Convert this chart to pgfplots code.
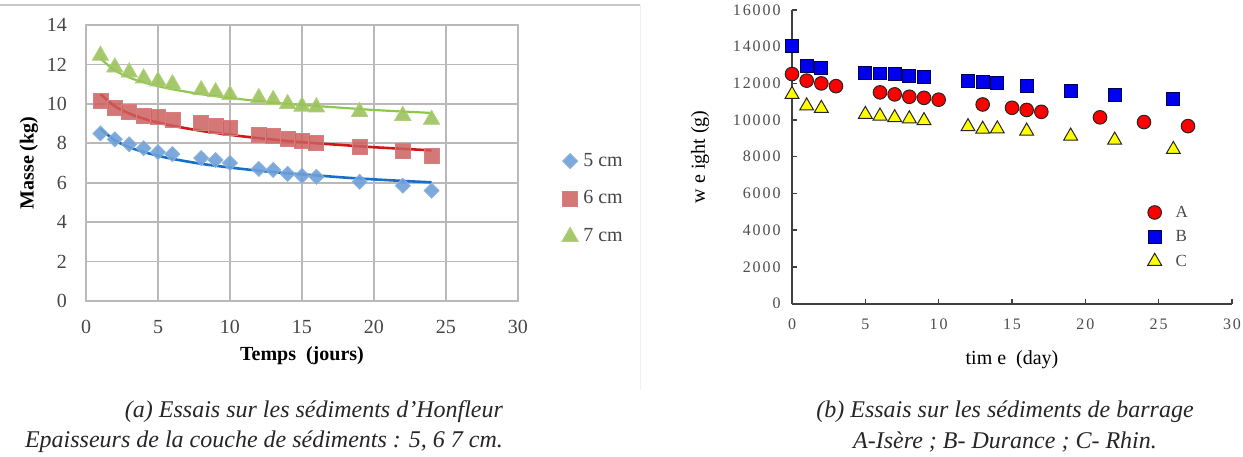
\documentclass[border=0pt]{standalone}
\usepackage{fontspec}
\setmainfont{Liberation Serif}
\newfontfamily\spaced[LetterSpace=12]{Liberation Serif}
\usepackage{pgfplots}
\pgfplotsset{compat=1.18}

% Excel-like palette for the Honfleur panel
\definecolor{xlblue}{RGB}{110,160,215}
\definecolor{xlred}{RGB}{205,95,95}
\definecolor{xlgreen}{RGB}{155,195,90}
\definecolor{trblue}{RGB}{25,110,200}
\definecolor{trred}{RGB}{205,25,25}
\definecolor{trgreen}{RGB}{140,200,75}
\definecolor{gridgray}{RGB}{185,185,185}
\definecolor{txtgray}{RGB}{70,70,70}
% dam sediment panel
\definecolor{mred}{RGB}{255,0,0}
\definecolor{mblue}{RGB}{0,0,240}
\definecolor{myellow}{RGB}{255,255,0}

\begin{document}
\begin{tikzpicture}
\path[use as bounding box] (0,0) rectangle (621.5pt,228pt);
% frame of the left panel
\draw[draw=black!22, line width=0.8pt] (0,225.5pt) -- (320pt,225.5pt);
\draw[draw=black!6, line width=0.5pt] (320pt,225.5pt) -- (320pt,33pt);

% ---------------- (a) Honfleur ----------------
\begin{axis}[
  at={(43pt,77.5pt)}, anchor=south west,
  scale only axis, width=216pt, height=138pt,
  xmin=0, xmax=30, ymin=0, ymax=14,
  xtick={0,5,...,30}, ytick={0,2,...,14},
  grid=major, major grid style={draw=gridgray, line width=0.9pt},
  axis line style={draw=gridgray, line width=0.9pt},
  tick style={draw=none},
  /pgf/number format/assume math mode=true,
  ticklabel style={font=\fontsize{10}{12}\selectfont, text=txtgray},
  yticklabel shift=6pt, xticklabel shift=6pt,
  xlabel={\bfseries Temps\ \ (jours)},
  ylabel={\bfseries Masse (kg)},
  label style={font=\fontsize{10}{12}\selectfont, text=txtgray},
  every axis x label/.style={at={(axis description cs:0.5,0)}, yshift=-27.5pt, anchor=center},
  every axis y label/.style={at={(axis description cs:0,0.5)}, xshift=-28.5pt, anchor=center, rotate=90},
  legend image code/.code={\draw[#1] plot coordinates {(0pt,0pt)};},
  legend style={at={(axis description cs:1.087,0.37)}, anchor=west, draw=none, fill=none,
    font=\fontsize{10}{12}\selectfont, text=txtgray, row sep=9.8pt,
    nodes={inner sep=0pt, text height=7pt, text depth=2pt},
    /tikz/every odd column/.append style={column sep=2.5pt}},
  legend cell align=left,
]
\addplot[only marks, mark=square*, mark size=2.65pt, mark options={rotate=45, fill=xlblue, draw=xlblue!80!white, fill opacity=0.9}]
  coordinates {(1,8.5)(2,8.2)(3,7.95)(4,7.75)(5,7.55)(6,7.45)(8,7.25)(9,7.15)(10,7.0)
   (12,6.7)(13,6.65)(14,6.45)(15,6.35)(16,6.3)(19,6.05)(22,5.85)(24,5.6)};
\addlegendentry{5 cm}
\addplot[only marks, mark=square*, mark size=3.75pt, mark options={fill=xlred, draw=xlred!80!white, fill opacity=0.85}]
  coordinates {(1,10.15)(2,9.8)(3,9.6)(4,9.4)(5,9.35)(6,9.2)(8,9.05)(9,8.9)(10,8.8)
   (12,8.45)(13,8.4)(14,8.2)(15,8.1)(16,8.0)(19,7.8)(22,7.6)(24,7.35)};
\addlegendentry{6 cm}
\addplot[only marks, mark=triangle*, mark size=4.7pt, mark options={fill=xlgreen, draw=xlgreen!80!white, fill opacity=0.9}]
  coordinates {(1,12.45)(2,11.85)(3,11.6)(4,11.3)(5,11.15)(6,11.0)(8,10.7)(9,10.6)(10,10.45)
   (12,10.3)(13,10.2)(14,10.0)(15,9.87)(16,9.83)(19,9.6)(22,9.4)(24,9.2)};
\addlegendentry{7 cm}
% trend curves
\addplot[forget plot, smooth, no marks, draw=trblue, line width=1.3pt]
  coordinates {(1,8.75)(2,8.15)(3,7.80)(4,7.56)(5,7.37)(6,7.21)(8,6.96)(10,6.77)(12,6.61)
   (14,6.48)(16,6.37)(18,6.26)(20,6.17)(22,6.09)(24,6.02)};
\addplot[forget plot, smooth, no marks, draw=trred, line width=1.3pt]
  coordinates {(1,10.5)(2,9.88)(3,9.51)(4,9.25)(5,9.05)(6,8.89)(8,8.63)(10,8.43)(12,8.26)
   (14,8.12)(16,8.0)(18,7.9)(20,7.8)(22,7.72)(24,7.64)};
\addplot[forget plot, smooth, no marks, draw=trgreen, line width=1.1pt]
  coordinates {(1,12.3)(2,11.7)(3,11.34)(4,11.09)(5,10.9)(6,10.74)(8,10.49)(10,10.30)(12,10.14)
   (14,10.0)(16,9.89)(18,9.79)(20,9.69)(22,9.61)(24,9.54)};
\end{axis}

% ---------------- (b) dam sediments ----------------
\begin{axis}[
  at={(396pt,76.25pt)}, anchor=south west,
  scale only axis, width=220pt, height=146.75pt,
  xmin=0, xmax=30, ymin=0, ymax=16000,
  xtick={0,5,...,30}, ytick={0,2000,...,16000},
  axis x line=bottom, axis y line=left,
  axis line style={-, draw=black!75, line width=1pt},
  tick align=inside, major tick length=2.5pt,
  tick style={draw=black!75, line width=0.7pt},
  scaled y ticks=false,
  /pgf/number format/1000 sep={},
  /pgf/number format/assume math mode=true,
  ticklabel style={font=\spaced\fontsize{8}{9}\selectfont, text=black!70},
  yticklabel shift=2.2pt, xticklabel shift=4.2pt,
  xlabel={tim e\ \ (day)},
  ylabel={w e ight (g)},
  label style={font=\spaced\fontsize{8}{9}\selectfont, text=black!70},
  every axis x label/.style={at={(axis description cs:0.5,0)}, yshift=-28.25pt, anchor=center},
  every axis y label/.style={at={(axis description cs:0,0.5)}, xshift=-46pt, anchor=center, rotate=90},
  legend image code/.code={\draw[#1] plot coordinates {(0pt,0pt)};},
  legend style={at={(axis description cs:0.794,0.227)}, anchor=west, draw=none, fill=none,
    font=\spaced\fontsize{8.5}{9}\selectfont, text=black!70, row sep=3.2pt,
    nodes={inner sep=0pt, text height=7pt, text depth=2pt},
    /tikz/every odd column/.append style={column sep=7pt}},
  legend cell align=left,
]
\addplot[only marks, mark=*, mark size=3.4pt, mark options={fill=mred, draw=black!85, line width=0.5pt}]
  coordinates {(0,12510)(1,12150)(2,12000)(3,11850)(6,11510)(7,11400)(8,11270)(9,11210)(10,11110)
   (13,10850)(15,10670)(16,10550)(17,10450)(21,10150)(24,9890)(27,9670)};
\addlegendentry{A}
\addplot[only marks, mark=square*, mark size=3.2pt, mark options={fill=mblue, draw=black!70!blue, line width=0.5pt}]
  coordinates {(0,14050)(1,12960)(2,12850)(5,12580)(6,12540)(7,12510)(8,12420)(9,12330)
   (12,12150)(13,12060)(14,12030)(16,11850)(19,11600)(22,11360)(26,11130)};
\addlegendentry{B}
\addplot[only marks, mark=triangle*, mark size=4pt, mark options={fill=myellow, draw=black!85, line width=0.5pt}]
  coordinates {(0,11400)(1,10770)(2,10640)(5,10310)(6,10220)(7,10130)(8,10070)(9,9970)
   (12,9640)(13,9500)(14,9520)(16,9400)(19,9130)(22,8910)(26,8400)};
\addlegendentry{C}
\end{axis}

% captions
\node[font=\itshape\fontsize{12}{14}\selectfont, text=black!85, anchor=east] at (255pt,22pt) {(a) Essais sur les sédiments d’Honfleur};
\node[font=\itshape\fontsize{12}{14}\selectfont, text=black!85, anchor=east] at (255pt,7pt) {Epaisseurs de la couche de sédiments : 5, 6 7 cm.};
\node[font=\itshape\fontsize{12}{14}\selectfont, text=black!85] at (502.5pt,22pt) {(b) Essais sur les sédiments de barrage};
\node[font=\itshape\fontsize{12}{14}\selectfont, text=black!85] at (502.5pt,7pt) {A-Isère ; B- Durance ; C- Rhin.};
\end{tikzpicture}
\end{document}
